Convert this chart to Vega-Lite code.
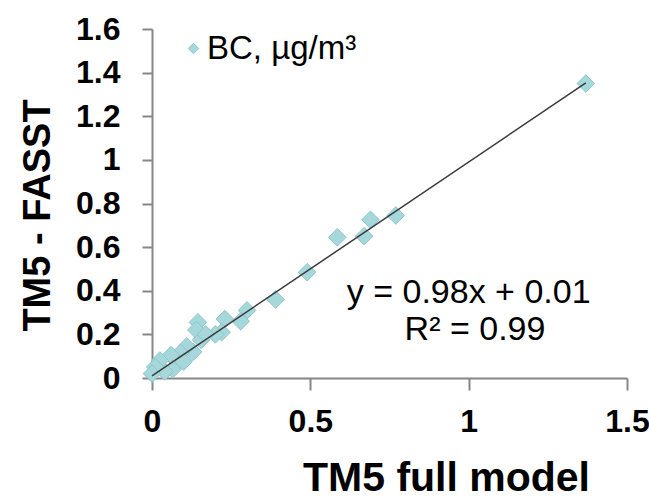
{
  "$schema": "https://vega.github.io/schema/vega-lite/v6.json",
  "autosize": {"type": "none"},
  "padding": {"left": 152, "top": 29, "right": 22, "bottom": 120},
  "width": 475,
  "height": 349,
  "background": "white",
  "config": {"view": {"stroke": null}, "font": "Liberation Sans"},
  "datasets": {
    "pts": [
      {"x": 1.37, "y": 1.35, "series": "BC, µg/m³"},
      {"x": 0.77, "y": 0.745, "series": "BC, µg/m³"},
      {"x": 0.69, "y": 0.725, "series": "BC, µg/m³"},
      {"x": 0.67, "y": 0.65, "series": "BC, µg/m³"},
      {"x": 0.585, "y": 0.645, "series": "BC, µg/m³"},
      {"x": 0.49, "y": 0.485, "series": "BC, µg/m³"},
      {"x": 0.39, "y": 0.36, "series": "BC, µg/m³"},
      {"x": 0.3, "y": 0.31, "series": "BC, µg/m³"},
      {"x": 0.28, "y": 0.26, "series": "BC, µg/m³"},
      {"x": 0.23, "y": 0.27, "series": "BC, µg/m³"},
      {"x": 0.22, "y": 0.21, "series": "BC, µg/m³"},
      {"x": 0.2, "y": 0.2, "series": "BC, µg/m³"},
      {"x": 0.145, "y": 0.255, "series": "BC, µg/m³"},
      {"x": 0.14, "y": 0.22, "series": "BC, µg/m³"},
      {"x": 0.155, "y": 0.175, "series": "BC, µg/m³"},
      {"x": 0.17, "y": 0.2, "series": "BC, µg/m³"},
      {"x": 0.13, "y": 0.12, "series": "BC, µg/m³"},
      {"x": 0.11, "y": 0.145, "series": "BC, µg/m³"},
      {"x": 0.09, "y": 0.115, "series": "BC, µg/m³"},
      {"x": 0.06, "y": 0.105, "series": "BC, µg/m³"},
      {"x": 0.1, "y": 0.075, "series": "BC, µg/m³"},
      {"x": 0.065, "y": 0.04, "series": "BC, µg/m³"},
      {"x": 0.04, "y": 0.03, "series": "BC, µg/m³"},
      {"x": 0.025, "y": 0.08, "series": "BC, µg/m³"},
      {"x": 0.01, "y": 0.05, "series": "BC, µg/m³"},
      {"x": 0.0, "y": 0.02, "series": "BC, µg/m³"}
    ],
    "trend": [
      {"x": 0.0, "y": 0.01},
      {"x": 1.37, "y": 1.353}
    ],
    "notes": [
      {"x": 1.0, "y": 0.39, "label": "y = 0.98x + 0.01"},
      {"x": 1.02, "y": 0.22, "label": "R² = 0.99"}
    ]
  },
  "encoding": {
    "x": {
      "field": "x", "type": "quantitative",
      "scale": {"domain": [0, 1.5], "nice": false, "zero": true},
      "axis": {
        "values": [0, 0.5, 1, 1.5], "format": ".1~f", "grid": false,
        "domainColor": "#868686", "domainWidth": 2,
        "tickColor": "#868686", "tickWidth": 2, "tickSize": 12,
        "labelFontSize": 32, "labelFontWeight": "bold", "labelColor": "black",
        "labelPadding": 16, "labelFlush": false, "labelOverlap": false,
        "title": "TM5 full model", "titleFontSize": 41, "titleFontWeight": "bold",
        "titleColor": "black", "titleX": 294, "titleY": 112,
        "titleAlign": "center", "titleBaseline": "alphabetic"
      }
    },
    "y": {
      "field": "y", "type": "quantitative",
      "scale": {"domain": [0, 1.6], "nice": false, "zero": true},
      "axis": {
        "values": [0, 0.2, 0.4, 0.6, 0.8, 1, 1.2, 1.4, 1.6], "format": ".1~f", "grid": false,
        "domainColor": "#868686", "domainWidth": 2,
        "tickColor": "#868686", "tickWidth": 2, "tickSize": 10,
        "labelFontSize": 32, "labelFontWeight": "bold", "labelColor": "black",
        "labelPadding": 22, "labelFlush": false, "labelOverlap": false,
        "title": "TM5 - FASST", "titleFontSize": 38, "titleFontWeight": "bold",
        "titleColor": "black", "titleX": -103, "titleY": 186, "titleAngle": -90,
        "titleAlign": "center", "titleBaseline": "alphabetic"
      }
    }
  },
  "layer": [
    {
      "data": {"name": "pts"},
      "mark": {"type": "point", "shape": "diamond", "filled": true, "size": 310, "stroke": "#8cc6cb", "strokeWidth": 1, "opacity": 1},
      "encoding": {
        "color": {
          "field": "series", "type": "nominal",
          "scale": {"range": ["#a6d7db"]},
          "legend": {
            "orient": "none", "legendX": 25, "legendY": 3, "title": null,
            "labelFontSize": 33, "labelFont": "Liberation Sans", "labelFontWeight": "normal",
            "labelColor": "black", "symbolSize": 110, "symbolType": "diamond",
            "symbolStrokeColor": "#8cc6cb", "symbolStrokeWidth": 1, "labelOffset": -3
          }
        }
      }
    },
    {
      "data": {"name": "trend"},
      "mark": {"type": "line", "color": "#3a3a3a", "strokeWidth": 1.5},
      "encoding": {}
    },
    {
      "data": {"name": "notes"},
      "mark": {"type": "text", "fontSize": 34, "font": "Liberation Sans", "fontWeight": "normal", "color": "black", "align": "center", "baseline": "middle"},
      "encoding": {"text": {"field": "label", "type": "nominal"}}
    }
  ]
}
